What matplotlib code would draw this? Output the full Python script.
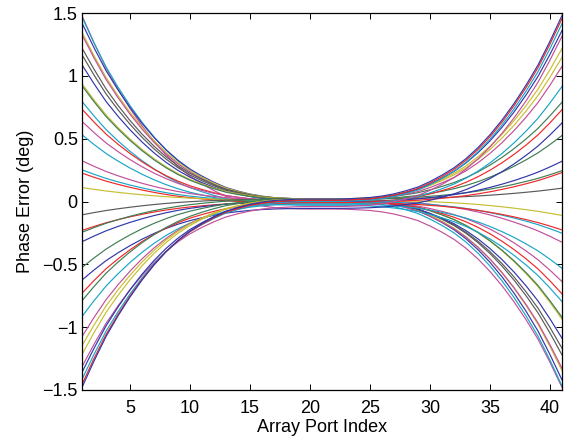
import numpy as np
import matplotlib
matplotlib.use("Agg")
import matplotlib.pyplot as plt

# Port indices and the common normalized error profile
ports = np.arange(1, 42)
# normalized magnitude at distance 20,19,...,0 from the centre port (21)
half_profile = [1.0, 0.86, 0.73, 0.62, 0.52, 0.43, 0.35, 0.28, 0.22, 0.17,
                0.13, 0.095, 0.065, 0.045, 0.028, 0.016, 0.008, 0.004, 0.001, 0.0, 0.0]

# error value at port 1 for each curve (right end mirrors with opposite sign)
left_end = [1.479, 1.468, 1.42, 1.346, 1.327, 1.221, 1.168, 1.088, 0.937, 0.921,
            0.796, 0.735, 0.637, 0.531, 0.324, 0.252, 0.226, 0.111,
            -0.106, -0.23, -0.245, -0.32, -0.525, -0.625, -0.73, -0.79, -0.915,
            -1.075, -1.147, -1.217, -1.315, -1.36, -1.415, -1.455, -1.48]
# value in the flat centre region for each curve
centre_val = [-0.06, 0.0, 0.02, 0.02, 0.01, 0.02, 0.015, 0.01, 0.02, 0.015,
              -0.03, 0.0, 0.005, -0.02, 0.01, 0.0, -0.01, 0.01,
              0.02, -0.005, 0.02, 0.0, 0.015, -0.055, -0.01, 0.02, -0.02,
              0.01, 0.02, 0.02, -0.04, 0.01, 0.0, 0.01, 0.02]
curve_colors = ['m', 'c', 'b', 'y', 'm', 'k', 'k', 'b', 'y', 'g',
                'c', 'r', 'm', 'c', 'm', 'c', 'r', 'y',
                'k', 'r', 'g', 'b', 'g', 'b', 'r', 'g', 'c',
                'm', 'y', 'y', 'm', 'b', 'c', 'r', 'b']

xticks = [5, 10, 15, 20, 25, 30, 35, 40]
yticks = [-1.5, -1, -0.5, 0, 0.5, 1, 1.5]
ytick_labels = ['\u22121.5', '\u22121', '\u22120.5', '0', '0.5', '1', '1.5']

palette = {'b': '#3236a8', 'g': '#3f7d55', 'r': '#f02828', 'c': '#1aa5c8',
           'm': '#c2509a', 'y': '#c8be32', 'k': '#5a5a5a'}

hp = np.array(half_profile)
g = np.concatenate([hp, -hp[::-1][1:]])  # odd profile over ports 1..41

plt.rcParams['font.family'] = ['Liberation Sans', 'DejaVu Sans']
fig = plt.figure(figsize=(5.64, 4.38), dpi=100)
ax = fig.add_axes([82 / 564, 48 / 438, 480 / 564, 377 / 438])

for a, c, col in zip(left_end, centre_val, curve_colors):
    y = a * g + c * (1 - np.abs(g))
    ax.plot(ports, y, color=palette[col], lw=0.85)

ax.set_xlim(1, 41)
ax.set_ylim(-1.5, 1.5)
ax.set_xticks(xticks)
ax.set_yticks(yticks)
ax.set_yticklabels(ytick_labels)
ax.tick_params(direction='in', length=4, width=0.7, top=True, right=True,
               labelsize=13)
ax.tick_params(axis='y', pad=3)
ax.tick_params(axis='x', pad=7)
for s in ax.spines.values():
    s.set_linewidth(0.9)
ax.set_xlabel('Array Port Index', fontsize=13, labelpad=2)
ax.set_ylabel('Phase Error (deg)', fontsize=13, labelpad=6)

fig.savefig('out.png', dpi=100)
